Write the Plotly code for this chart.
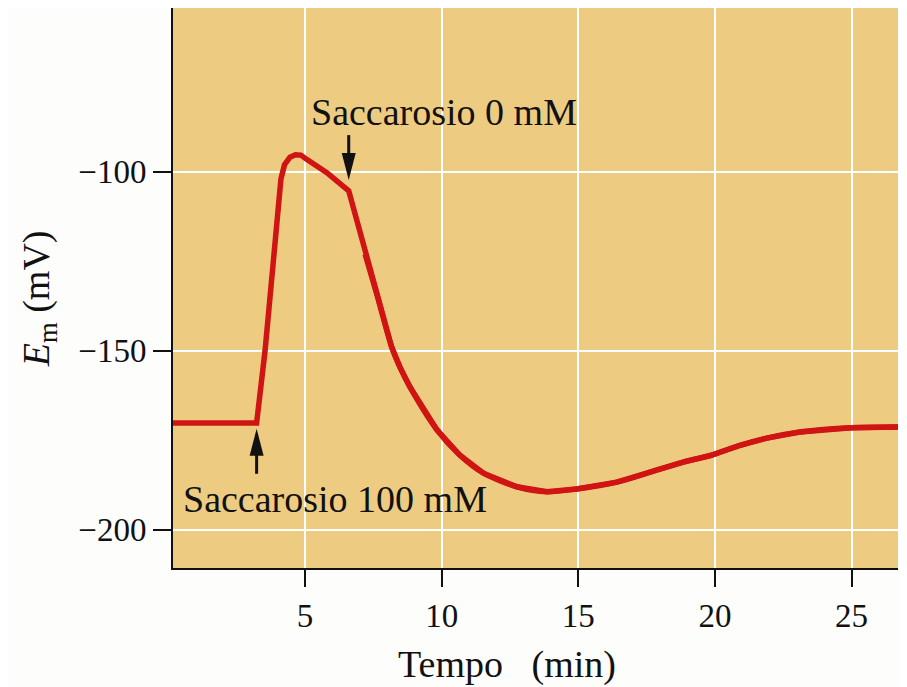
import plotly.graph_objects as go

# Data
tempo_min = [0.17, 2.0, 3.23, 3.54, 3.84, 4.02, 4.12, 4.25, 4.45, 4.65, 4.85, 5.06, 5.8, 6.6,
             6.95, 7.2, 7.62, 8.17, 8.47, 8.84, 9.82, 10.67, 11.53, 12.75, 13.85, 14.94,
             16.41, 17.63, 18.84, 19.86, 20.92, 21.9, 23.11, 25.0, 26.7]
em_mV = [-170.2, -170.2, -170.2, -149.9, -125.6, -110.0, -102.0, -98.0, -95.9, -95.2, -95.3,
         -96.5, -100.2, -105.3, -115.0, -123.0, -134.0, -148.9, -154.5, -160.1, -172.0,
         -179.2, -184.2, -188.0, -189.4, -188.6, -186.7, -183.9, -181.1, -179.2, -176.4,
         -174.4, -172.7, -171.5, -171.3]

x_tickvals = [5, 10, 15, 20, 25]
x_ticktext = ["5", "10", "15", "20", "25"]
y_tickvals = [-100, -150, -200]
y_ticktext = ["\u2212100", "\u2212150", "\u2212200"]

x_title = "Tempo   (min)"
y_title = "<i>E</i><sub>m</sub> (mV)"

# event markers (arrows) and their labels
arrow_t = [3.23, 6.60]
arrow_tip = [-171.8, -102.3]
arrow_dir = ["up", "down"]
label_text = ["Saccarosio 100 mM", "Saccarosio 0 mM"]
label_t = [6.10, 10.09]
label_em = [-191.5, -83.3]

FONT = "Liberation Serif, Times New Roman, serif"
INK = "#111111"
RED = "#D01414"

fig = go.Figure()
# full curve (keeps the sharp corners at the two solution changes)
fig.add_trace(go.Scatter(
    x=tempo_min, y=em_mV, mode="lines",
    line=dict(color=RED, width=5.5),
    hoverinfo="skip", showlegend=False,
))
# smooth overlay of the recovery phase after the second change
i0 = tempo_min.index(7.2)
fig.add_trace(go.Scatter(
    x=tempo_min[i0:], y=em_mV[i0:], mode="lines",
    line=dict(color=RED, width=5.5, shape="spline", smoothing=0.8),
    hoverinfo="skip", showlegend=False,
))

# page body has an 8px margin; size the figure so it fills the 907x687 window
fig.update_layout(
    width=899, height=679,
    margin=dict(l=165, r=9, t=0, b=119),
    paper_bgcolor="#FDFDFC",
    plot_bgcolor="#EDCC82",
    font=dict(family=FONT, color=INK, size=33),
    showlegend=False,
)

axis_common = dict(
    showgrid=True, gridcolor="#FFFFFF", gridwidth=2,
    showline=True, linecolor=INK, linewidth=2, mirror=False,
    ticks="outside", tickwidth=2, tickcolor=INK,
    tickfont=dict(family=FONT, size=33, color=INK),
    zeroline=False,
)
fig.update_xaxes(range=[0.17, 26.7], tickvals=x_tickvals, ticktext=x_ticktext,
                 ticklen=17, **axis_common)
fig.update_yaxes(range=[-210.7, -54.2], tickvals=y_tickvals, ticktext=y_ticktext,
                 ticklen=18, **axis_common)

annotations = [
    dict(text=x_title, xref="paper", yref="paper", x=0.4607, y=-0.173,
         xanchor="center", yanchor="middle", showarrow=False,
         font=dict(family=FONT, size=38, color=INK)),
    dict(text=y_title, xref="paper", yref="paper", x=-0.1848, y=0.48,
         xanchor="center", yanchor="middle", showarrow=False, textangle=-90,
         font=dict(family=FONT, size=38, color=INK)),
]
for txt, lt, le in zip(label_text, label_t, label_em):
    annotations.append(dict(text=txt, x=lt, y=le, xref="x", yref="y",
                            xanchor="center", yanchor="middle", showarrow=False,
                            font=dict(family=FONT, size=38, color=INK)))
fig.update_layout(annotations=annotations)

shapes = []
for t, tip, d in zip(arrow_t, arrow_tip, arrow_dir):
    s = 1 if d == "up" else -1
    common = dict(type="path", xref="x", yref="y", xsizemode="pixel", ysizemode="pixel",
                  xanchor=t, yanchor=tip, layer="above")
    shapes.append(dict(path=f"M0,0 L-7,{-s * 27} L7,{-s * 27} Z",
                       fillcolor=INK, line=dict(width=0), **common))
    shapes.append(dict(path=f"M0,{-s * 20} L0,{-s * 45}",
                       line=dict(color=INK, width=3), **common))
fig.update_layout(shapes=shapes)

fig.write_html("out.html")
